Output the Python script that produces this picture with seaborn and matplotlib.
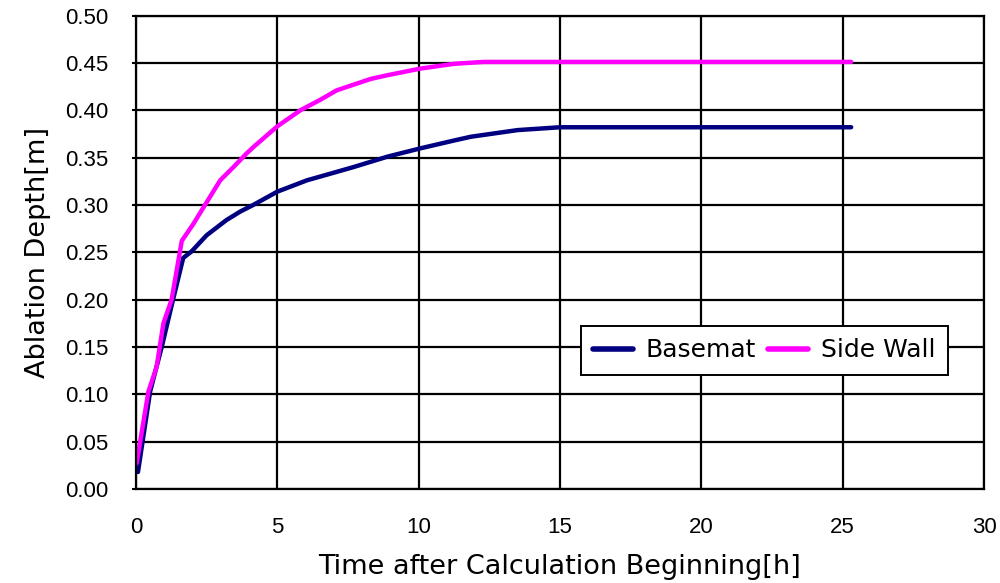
import matplotlib
matplotlib.use("Agg")
import matplotlib.pyplot as plt
import seaborn as sns
import pandas as pd

basemat_t = [0.07, 0.5, 0.91, 1.31, 1.67, 1.97, 2.5, 3.2, 3.69, 4.15, 5.0, 6.05, 6.76, 7.7, 8.9, 10.1, 11.25, 11.85, 13.5, 15.0, 25.3]
basemat_d = [0.018, 0.103, 0.150, 0.200, 0.244, 0.251, 0.268, 0.284, 0.293, 0.300, 0.314, 0.326, 0.332, 0.340, 0.351, 0.360, 0.368, 0.372, 0.379, 0.382, 0.382]
side_t = [0.02, 0.44, 0.73, 0.97, 1.26, 1.62, 2.03, 2.38, 2.98, 3.45, 3.9, 4.15, 5.0, 5.82, 6.52, 7.1, 8.3, 8.9, 10.07, 11.25, 12.3, 25.3]
side_d = [0.027, 0.103, 0.129, 0.175, 0.200, 0.262, 0.280, 0.297, 0.326, 0.340, 0.354, 0.361, 0.383, 0.400, 0.411, 0.421, 0.433, 0.437, 0.444, 0.449, 0.451, 0.451]
series_names = ["Basemat", "Side Wall"]
series_colors = ["#000080", "#FF00FF"]
x_ticks = [0, 5, 10, 15, 20, 25, 30]
y_ticks = [0.00, 0.05, 0.10, 0.15, 0.20, 0.25, 0.30, 0.35, 0.40, 0.45, 0.50]

df = pd.concat([
    pd.DataFrame({"t": basemat_t, "d": basemat_d, "s": series_names[0]}),
    pd.DataFrame({"t": side_t, "d": side_d, "s": series_names[1]}),
], ignore_index=True)

sns.set_style("white")
plt.rcParams['font.family'] = ['Liberation Sans', 'DejaVu Sans']
plt.rcParams['text.color'] = 'black'
plt.rcParams['axes.labelcolor'] = 'black'

fig = plt.figure(figsize=(10, 5.83), dpi=100)
ax = fig.add_axes([0.136, 0.1612, 0.848, 0.8122])

sns.lineplot(data=df, x="t", y="d", hue="s", palette=series_colors, hue_order=series_names,
             estimator=None, sort=False, linewidth=3.2, ax=ax, legend=True)

ax.set_xlim(0, 30)
ax.set_ylim(0, 0.5)
ax.set_xticks(x_ticks)
ax.set_xticklabels([str(v) for v in x_ticks])
ax.set_yticks(y_ticks)
ax.set_yticklabels([f"{v:.2f}" for v in y_ticks])
ax.grid(True, color="black", linewidth=1.6)
ax.set_axisbelow(True)
for sp in ax.spines.values():
    sp.set_color("black")
    sp.set_linewidth(1.6)
ax.tick_params(axis="x", length=0, pad=20, labelsize=16, colors="black")
ax.tick_params(axis="y", length=3, width=1.5, pad=17, labelsize=16, colors="black", left=True)

ax.set_xlabel("Time after Calculation Beginning[h]", fontsize=19.5, family="DejaVu Sans", labelpad=12, color="black")
ax.set_ylabel("Ablation Depth[m]", fontsize=19.5, family="DejaVu Sans", labelpad=10, color="black")

leg = ax.legend(title=None, loc="lower right", bbox_to_anchor=(0.9575, 0.241), borderaxespad=0,
                ncol=2, frameon=True, fancybox=False, prop={"family": "DejaVu Sans", "size": 18},
                handlelength=1.6, columnspacing=0.5, handletextpad=0.5, borderpad=0.5)
leg.get_frame().set_edgecolor("black")
leg.get_frame().set_linewidth(1.4)
leg.get_frame().set_alpha(1)
for h in leg.get_lines():
    h.set_linewidth(4)
for t in leg.get_texts():
    t.set_color("black")

fig.savefig("out.png", dpi=100)
